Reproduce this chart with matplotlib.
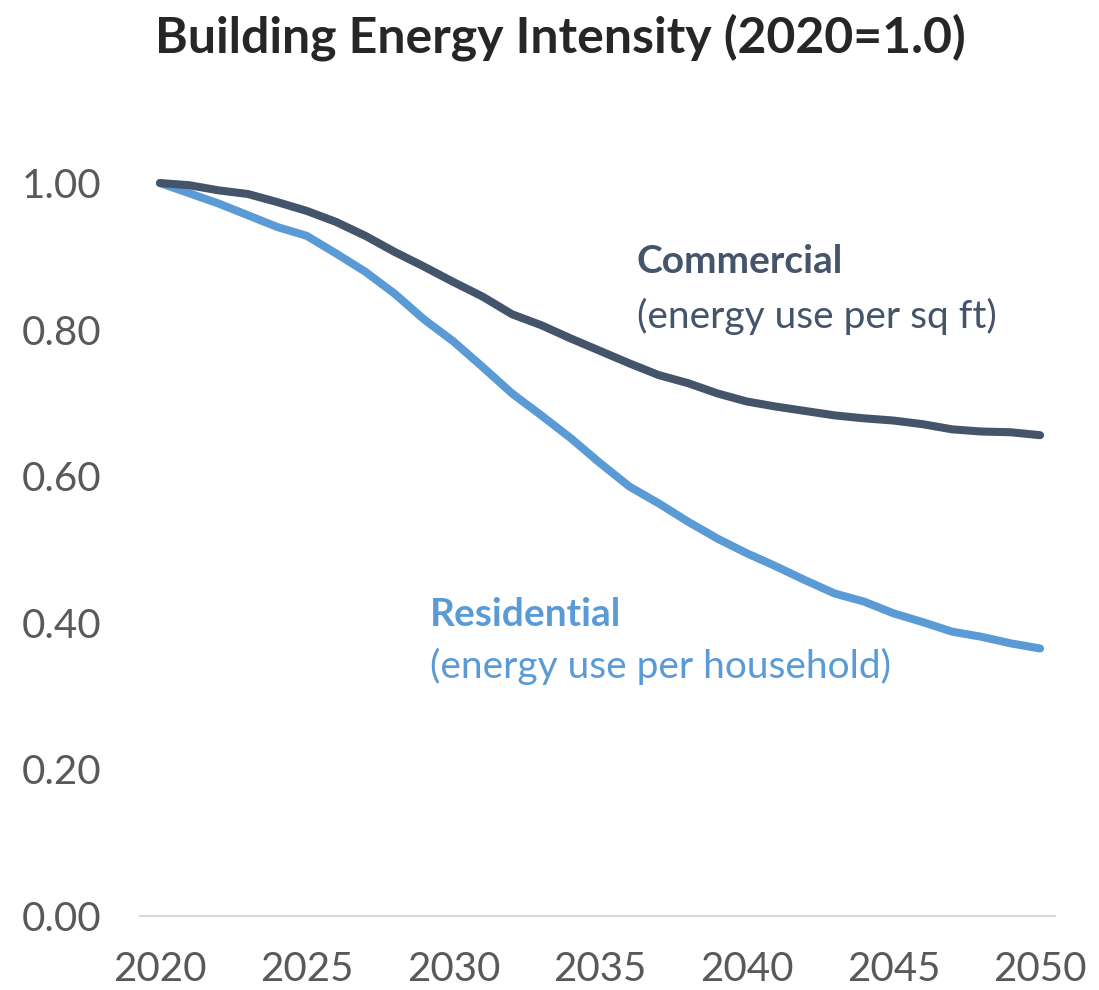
import numpy as np
import matplotlib
matplotlib.use("Agg")
import matplotlib.pyplot as plt

plt.rcParams['font.family'] = ['Lato', 'DejaVu Sans']

years = np.arange(2020, 2051)
commercial = [1.000, 0.997, 0.990, 0.985, 0.974, 0.962, 0.947, 0.928, 0.906, 0.886,
              0.865, 0.845, 0.821, 0.806, 0.788, 0.771, 0.754, 0.738, 0.727, 0.713,
              0.702, 0.695, 0.689, 0.683, 0.679, 0.676, 0.671, 0.664, 0.661, 0.660,
              0.656]
residential = [1.000, 0.986, 0.972, 0.956, 0.940, 0.928, 0.904, 0.879, 0.849, 0.814,
               0.784, 0.749, 0.713, 0.683, 0.652, 0.618, 0.586, 0.563, 0.538, 0.515,
               0.495, 0.477, 0.458, 0.440, 0.429, 0.413, 0.401, 0.388, 0.381, 0.372,
               0.365]
y_ticks = [0.0, 0.2, 0.4, 0.6, 0.8, 1.0]
x_ticks = [2020, 2025, 2030, 2035, 2040, 2045, 2050]

dark = '#44546A'
blue = '#5B9BD5'
grey = '#595959'

fig = plt.figure(figsize=(10.99, 9.90), dpi=100)
ax = fig.add_axes([0.1274, 0.0747, 0.8326, 0.8885])

ax.plot(years, residential, color=blue, lw=5.8, solid_capstyle='round', solid_joinstyle='round')
ax.plot(years, commercial, color=dark, lw=5.8, solid_capstyle='round', solid_joinstyle='round')

ax.set_xlim(2019.32, 2050.51)
ax.set_ylim(0, 1.2)
ax.set_yticks(y_ticks)
ax.set_yticklabels([f'{v:.2f}' for v in y_ticks])
ax.set_xticks(x_ticks)
ax.tick_params(axis='both', length=0, labelsize=29, colors=grey)
ax.tick_params(axis='y', pad=28)
ax.tick_params(axis='x', pad=25)

for side in ['top', 'right', 'left']:
    ax.spines[side].set_visible(False)
ax.spines['bottom'].set_color('#D9D9D9')
ax.spines['bottom'].set_linewidth(1.5)

# series labels placed beside the curves
ax.text(2036.25, 0.893, 'Commercial', color=dark, fontsize=28, fontweight='bold', va='center')
ax.text(2036.25, 0.818, '(energy use per sq ft)', color=dark, fontsize=28, va='center')
ax.text(2029.2, 0.412, 'Residential', color=blue, fontsize=28, fontweight='bold', va='center')
ax.text(2029.2, 0.341, '(energy use per household)', color=blue, fontsize=28, va='center')

fig.text(0.51, 0.962, 'Building Energy Intensity (2020=1.0)', fontsize=36, fontweight='bold',
         color='#262626', ha='center', va='center')

fig.savefig('out.png', dpi=100)
